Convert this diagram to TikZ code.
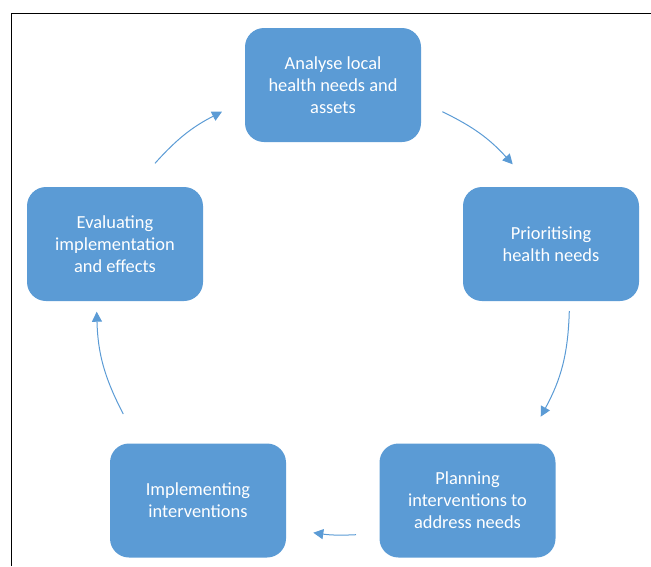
\documentclass[tikz,border=0pt]{standalone}
\usepackage{fontspec}
\setmainfont{Carlito}
\usetikzlibrary{arrows.meta}
\definecolor{boxblue}{HTML}{5B9BD5}
\tikzset{
  stagebox/.style={fill=boxblue, draw=none, rounded corners=19pt,
    minimum width=176pt, minimum height=114pt, inner sep=0pt,
    text=white, align=center, font=\fontsize{18.4}{22}\selectfont},
  cyclearrow/.style={draw=boxblue, line width=1pt,
    -{Triangle[length=10pt,width=10pt]}},
  frameline/.style={draw=black, line width=1pt}
}
\begin{document}
\begin{tikzpicture}[x=1pt,y=1pt]
\useasboundingbox (0,0) rectangle (651,-566);
\draw[frameline] (11.5,-566) -- (11.5,-13.3) -- (651,-13.3);

\node[stagebox] (analyse) at (333,-85) {Analyse local\\health needs and\\assets};
\node[stagebox] (prior) at (551,-244) {Prioritising\\health needs};
\node[stagebox] (plan) at (467.5,-500.5) {Planning\\interventions to\\address needs};
\node[stagebox] (impl) at (198,-500.5) {Implementing\\interventions};
\node[stagebox] (eval) at (115,-244) {Evaluating\\implementation\\and effects};

\coordinate (a1s) at (155,-163.3);
\coordinate (a1e) at (222,-111.7);
\coordinate (a2s) at (442.3,-111.7);
\coordinate (a2e) at (512.7,-164.3);
\coordinate (a3s) at (569.3,-311);
\coordinate (a3e) at (540.7,-416.7);
\coordinate (a4s) at (356,-534.7);
\coordinate (a4e) at (313.3,-532.7);
\coordinate (a5s) at (123.3,-414);
\coordinate (a5e) at (96.7,-311.7);

\draw[cyclearrow] (a1s) to[bend left=10.5] (a1e);
\draw[cyclearrow] (a2s) to[bend left=11] (a2e);
\draw[cyclearrow] (a3s) to[bend left=13.5] (a3e);
\draw[cyclearrow] (a4s) to[bend left=5.5] (a4e);
\draw[cyclearrow] (a5s) to[bend left=13] (a5e);
\end{tikzpicture}
\end{document}
